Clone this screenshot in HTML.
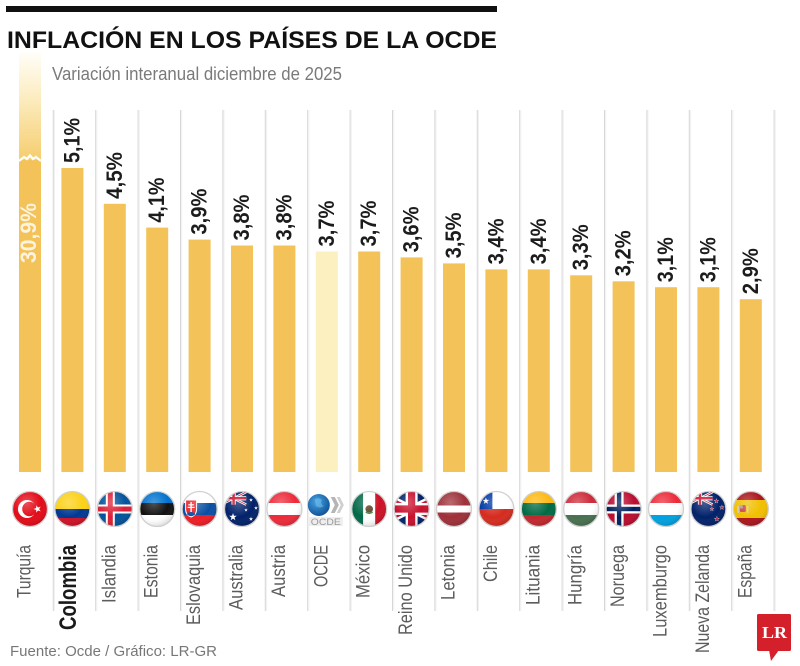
<!DOCTYPE html>
<html><head><meta charset="utf-8"><style>
html,body{margin:0;padding:0;background:#fff;}
svg{display:block;}
text{font-family:"Liberation Sans",sans-serif;}
</style></head><body>
<svg width="800" height="666" viewBox="0 0 800 666" xmlns="http://www.w3.org/2000/svg">
<defs>
<clipPath id="c"><circle r="17.5"/></clipPath>
<radialGradient id="gloss" cx="40%" cy="32%" r="70%">
<stop offset="0" stop-color="#fff" stop-opacity="0.28"/>
<stop offset="0.6" stop-color="#fff" stop-opacity="0"/>
<stop offset="1" stop-color="#000" stop-opacity="0.15"/>
</radialGradient>
<linearGradient id="tg" x1="0" y1="0" x2="0" y2="1">
<stop offset="0" stop-color="#fffef9"/>
<stop offset="0.45" stop-color="#fcebbd"/>
<stop offset="1" stop-color="#f5cd6e"/>
</linearGradient>
<radialGradient id="globe" cx="40%" cy="35%" r="70%">
<stop offset="0" stop-color="#4aa3e0"/>
<stop offset="1" stop-color="#0b4f95"/>
</radialGradient>
<polygon id="star" points="0,-1 0.235,-0.324 0.951,-0.309 0.38,0.124 0.588,0.809 0,0.4 -0.588,0.809 -0.38,0.124 -0.951,-0.309 -0.235,-0.324"/>
<g id="uj">
<rect width="60" height="30" fill="#012169"/>
<path d="M0,0L60,30M60,0L0,30" stroke="#fff" stroke-width="6"/>
<path d="M0,0L60,30M60,0L0,30" stroke="#C8102E" stroke-width="2"/>
<path d="M30,0v30M0,15h60" stroke="#fff" stroke-width="10"/>
<path d="M30,0v30M0,15h60" stroke="#C8102E" stroke-width="6"/>
</g>
</defs>

<!-- top rule + titles -->
<rect x="6" y="6" width="491" height="6" fill="#111"/>
<text x="7" y="48" font-size="24" font-weight="bold" fill="#111" textLength="490" lengthAdjust="spacingAndGlyphs">INFLACIÓN EN LOS PAÍSES DE LA OCDE</text>
<text x="52" y="80" font-size="18" fill="#7a7a7a" textLength="290" lengthAdjust="spacingAndGlyphs">Variación interanual diciembre de 2025</text>

<!-- separators -->
<g stroke-width="1">
<g stroke="#d6d6d6">
<line x1="53.3" y1="110" x2="53.3" y2="611"/><line x1="95.7" y1="110" x2="95.7" y2="611"/><line x1="138.1" y1="110" x2="138.1" y2="611"/><line x1="180.5" y1="110" x2="180.5" y2="611"/><line x1="222.9" y1="110" x2="222.9" y2="611"/><line x1="265.3" y1="110" x2="265.3" y2="611"/><line x1="307.7" y1="110" x2="307.7" y2="611"/><line x1="350.1" y1="110" x2="350.1" y2="611"/><line x1="392.5" y1="110" x2="392.5" y2="611"/><line x1="434.9" y1="110" x2="434.9" y2="611"/><line x1="477.3" y1="110" x2="477.3" y2="611"/><line x1="519.7" y1="110" x2="519.7" y2="611"/><line x1="562.1" y1="110" x2="562.1" y2="611"/><line x1="604.5" y1="110" x2="604.5" y2="611"/><line x1="646.9" y1="110" x2="646.9" y2="611"/><line x1="689.3" y1="110" x2="689.3" y2="611"/><line x1="731.7" y1="110" x2="731.7" y2="611"/><line x1="774.1" y1="110" x2="774.1" y2="611"/>
</g>
<g stroke="#f2f2f2">
<line x1="54.5" y1="110" x2="54.5" y2="611"/><line x1="96.9" y1="110" x2="96.9" y2="611"/><line x1="139.3" y1="110" x2="139.3" y2="611"/><line x1="181.7" y1="110" x2="181.7" y2="611"/><line x1="224.1" y1="110" x2="224.1" y2="611"/><line x1="266.5" y1="110" x2="266.5" y2="611"/><line x1="308.9" y1="110" x2="308.9" y2="611"/><line x1="351.3" y1="110" x2="351.3" y2="611"/><line x1="393.7" y1="110" x2="393.7" y2="611"/><line x1="436.1" y1="110" x2="436.1" y2="611"/><line x1="478.5" y1="110" x2="478.5" y2="611"/><line x1="520.9" y1="110" x2="520.9" y2="611"/><line x1="563.3" y1="110" x2="563.3" y2="611"/><line x1="605.7" y1="110" x2="605.7" y2="611"/><line x1="648.1" y1="110" x2="648.1" y2="611"/><line x1="690.5" y1="110" x2="690.5" y2="611"/><line x1="732.9" y1="110" x2="732.9" y2="611"/><line x1="775.3" y1="110" x2="775.3" y2="611"/>
</g>
</g>

<!-- Turquia bar -->
<rect x="19" y="52" width="22" height="108" fill="url(#tg)"/>
<rect x="19" y="160" width="22" height="312" fill="#f3c35a"/>
<path d="M19,161 L24,157 L27,159 L30,155.5 L33,159 L36,157 L41,161" fill="none" stroke="#fff" stroke-width="2.2"/>
<text transform="translate(36,263) rotate(-90)" font-size="22" font-weight="bold" fill="#fff" fill-opacity="0.8" textLength="60" lengthAdjust="spacingAndGlyphs">30,9%</text>

<!-- bars -->
<g fill="#f3c35a">
<rect x="61.4" y="168" width="22" height="304"/>
<rect x="103.8" y="203.8" width="22" height="268.2"/>
<rect x="146.2" y="227.6" width="22" height="244.4"/>
<rect x="188.6" y="239.6" width="22" height="232.4"/>
<rect x="231" y="245.5" width="22" height="226.5"/>
<rect x="273.4" y="245.5" width="22" height="226.5"/>
<rect x="315.8" y="251.5" width="22" height="220.5" fill="#fcefc0"/>
<rect x="358.2" y="251.5" width="22" height="220.5"/>
<rect x="400.6" y="257.4" width="22" height="214.6"/>
<rect x="443" y="263.4" width="22" height="208.6"/>
<rect x="485.4" y="269.4" width="22" height="202.6"/>
<rect x="527.8" y="269.4" width="22" height="202.6"/>
<rect x="570.2" y="275.3" width="22" height="196.7"/>
<rect x="612.6" y="281.3" width="22" height="190.7"/>
<rect x="655" y="287.2" width="22" height="184.8"/>
<rect x="697.4" y="287.2" width="22" height="184.8"/>
<rect x="739.8" y="299.2" width="22" height="172.8"/>
</g>

<!-- value labels -->
<g font-size="22" font-weight="bold" fill="#1c1c1c">
<text transform="translate(79.4,163) rotate(-90)" textLength="45" lengthAdjust="spacingAndGlyphs">5,1%</text>
<text transform="translate(121.8,199) rotate(-90)" textLength="47" lengthAdjust="spacingAndGlyphs">4,5%</text>
<text transform="translate(164.2,222.6) rotate(-90)" textLength="45" lengthAdjust="spacingAndGlyphs">4,1%</text>
<text transform="translate(206.6,234.6) rotate(-90)" textLength="46" lengthAdjust="spacingAndGlyphs">3,9%</text>
<text transform="translate(249,240.5) rotate(-90)" textLength="46" lengthAdjust="spacingAndGlyphs">3,8%</text>
<text transform="translate(291.4,240.5) rotate(-90)" textLength="46" lengthAdjust="spacingAndGlyphs">3,8%</text>
<text transform="translate(333.8,246.5) rotate(-90)" textLength="46" lengthAdjust="spacingAndGlyphs">3,7%</text>
<text transform="translate(376.2,246.5) rotate(-90)" textLength="46" lengthAdjust="spacingAndGlyphs">3,7%</text>
<text transform="translate(418.6,252.4) rotate(-90)" textLength="46" lengthAdjust="spacingAndGlyphs">3,6%</text>
<text transform="translate(461,258.4) rotate(-90)" textLength="46" lengthAdjust="spacingAndGlyphs">3,5%</text>
<text transform="translate(503.4,264.4) rotate(-90)" textLength="46" lengthAdjust="spacingAndGlyphs">3,4%</text>
<text transform="translate(545.8,264.4) rotate(-90)" textLength="46" lengthAdjust="spacingAndGlyphs">3,4%</text>
<text transform="translate(588.2,270.3) rotate(-90)" textLength="46" lengthAdjust="spacingAndGlyphs">3,3%</text>
<text transform="translate(630.6,276.3) rotate(-90)" textLength="46" lengthAdjust="spacingAndGlyphs">3,2%</text>
<text transform="translate(673,282.2) rotate(-90)" textLength="45" lengthAdjust="spacingAndGlyphs">3,1%</text>
<text transform="translate(715.4,282.2) rotate(-90)" textLength="45" lengthAdjust="spacingAndGlyphs">3,1%</text>
<text transform="translate(757.8,294.2) rotate(-90)" textLength="46" lengthAdjust="spacingAndGlyphs">2,9%</text>
</g>

<!-- flags -->
<g transform="translate(30,509)"><g clip-path="url(#c)">
<rect x="-18" y="-18" width="36" height="36" fill="#e30a17"/>
<circle cx="-3" cy="0" r="9" fill="#fff"/><circle cx="-0.6" cy="0" r="7.2" fill="#e30a17"/>
<use href="#star" transform="translate(7.5,0) rotate(-90) scale(4)" fill="#fff"/>
</g><circle r="17.5" fill="url(#gloss)"/><circle r="17.5" fill="none" stroke="#d0d0d0" stroke-width="1.3"/></g>
<g transform="translate(72.4,509)"><g clip-path="url(#c)">
<rect x="-18" y="-18" width="36" height="18" fill="#fcd116"/>
<rect x="-18" y="0" width="36" height="9" fill="#003893"/>
<rect x="-18" y="9" width="36" height="9" fill="#ce1126"/>
</g><circle r="17.5" fill="url(#gloss)"/><circle r="17.5" fill="none" stroke="#d0d0d0" stroke-width="1.3"/></g>
<g transform="translate(114.8,509)"><g clip-path="url(#c)">
<rect x="-18" y="-18" width="36" height="36" fill="#02529c"/>
<rect x="-9" y="-18" width="9" height="36" fill="#fff"/><rect x="-18" y="-4.5" width="36" height="9" fill="#fff"/>
<rect x="-7" y="-18" width="5" height="36" fill="#dc1e35"/><rect x="-18" y="-2.5" width="36" height="5" fill="#dc1e35"/>
</g><circle r="17.5" fill="url(#gloss)"/><circle r="17.5" fill="none" stroke="#d0d0d0" stroke-width="1.3"/></g>
<g transform="translate(157.2,509)"><g clip-path="url(#c)">
<rect x="-18" y="-18" width="36" height="12" fill="#0072ce"/>
<rect x="-18" y="-6" width="36" height="12" fill="#111"/>
<rect x="-18" y="6" width="36" height="12" fill="#fff"/>
</g><circle r="17.5" fill="url(#gloss)"/><circle r="17.5" fill="none" stroke="#d0d0d0" stroke-width="1.3"/></g>
<g transform="translate(199.6,509)"><g clip-path="url(#c)">
<rect x="-18" y="-18" width="36" height="12" fill="#fff"/>
<rect x="-18" y="-6" width="36" height="12" fill="#0b4ea2"/>
<rect x="-18" y="6" width="36" height="12" fill="#ee1c25"/>
<path d="M-14,-9 h11 v9 q0,6 -5.5,8 q-5.5,-2 -5.5,-8z" fill="#ee1c25" stroke="#fff" stroke-width="1"/>
<rect x="-9.2" y="-7" width="1.4" height="10" fill="#fff"/><rect x="-11.3" y="-4.8" width="5.6" height="1.2" fill="#fff"/><rect x="-12" y="-2.2" width="7" height="1.2" fill="#fff"/>
<ellipse cx="-8.5" cy="5" rx="4" ry="2" fill="#0b4ea2"/>
</g><circle r="17.5" fill="url(#gloss)"/><circle r="17.5" fill="none" stroke="#d0d0d0" stroke-width="1.3"/></g>
<g transform="translate(242,509)"><g clip-path="url(#c)">
<rect x="-18" y="-18" width="36" height="36" fill="#012169"/>
<use href="#uj" transform="translate(-21,-17) scale(0.42)"/>
<use href="#star" transform="translate(-9,8) scale(4)" fill="#fff"/>
<use href="#star" transform="translate(9,-9) scale(2)" fill="#fff"/>
<use href="#star" transform="translate(14,-1) scale(2)" fill="#fff"/>
<use href="#star" transform="translate(9,10) scale(2.2)" fill="#fff"/>
<use href="#star" transform="translate(4,1) scale(1.8)" fill="#fff"/>
</g><circle r="17.5" fill="url(#gloss)"/><circle r="17.5" fill="none" stroke="#d0d0d0" stroke-width="1.3"/></g>
<g transform="translate(284.4,509)"><g clip-path="url(#c)">
<rect x="-18" y="-18" width="36" height="36" fill="#ed2939"/>
<rect x="-18" y="-6" width="36" height="12" fill="#fff"/>
</g><circle r="17.5" fill="url(#gloss)"/><circle r="17.5" fill="none" stroke="#d0d0d0" stroke-width="1.3"/></g>
<g transform="translate(326.8,509)">
<circle cx="-8" cy="-4" r="11" fill="url(#globe)"/>
<path d="M-12,-10 q4,-2 7,1 q-2,4 2,6 q-4,3 -8,0z" fill="#6fc0ee" opacity="0.6"/>
<polygon points="4,-12 8,-12 12,-4 8,4 4,4 8,-4" fill="#b5b5b5"/>
<polygon points="10,-12 13,-12 17,-4 13,4 10,4 14,-4" fill="#cfcfcf"/>
<rect x="-18" y="8" width="34" height="9" fill="#eeeeee"/>
<text x="-16" y="16" font-size="9" fill="#999" textLength="30" lengthAdjust="spacingAndGlyphs">OCDE</text>
</g>
<g transform="translate(369.2,509)"><g clip-path="url(#c)">
<rect x="-18" y="-18" width="12" height="36" fill="#006847"/>
<rect x="-6" y="-18" width="12" height="36" fill="#fff"/>
<rect x="6" y="-18" width="12" height="36" fill="#ce1126"/>
<circle cx="0" cy="0" r="3.8" fill="#5a3e22"/><path d="M-3.5,3 q3.5,3 7,0" stroke="#3a8a3a" stroke-width="1.2" fill="none"/>
</g><circle r="17.5" fill="url(#gloss)"/><circle r="17.5" fill="none" stroke="#d0d0d0" stroke-width="1.3"/></g>
<g transform="translate(411.6,509)"><g clip-path="url(#c)">
<use href="#uj" transform="translate(-36,-18) scale(1.2)"/>
</g><circle r="17.5" fill="url(#gloss)"/><circle r="17.5" fill="none" stroke="#d0d0d0" stroke-width="1.3"/></g>
<g transform="translate(454,509)"><g clip-path="url(#c)">
<rect x="-18" y="-18" width="36" height="36" fill="#9e3039"/>
<rect x="-18" y="-3.5" width="36" height="7" fill="#fff"/>
</g><circle r="17.5" fill="url(#gloss)"/><circle r="17.5" fill="none" stroke="#d0d0d0" stroke-width="1.3"/></g>
<g transform="translate(496.4,509)"><g clip-path="url(#c)">
<rect x="-18" y="-18" width="36" height="18" fill="#fff"/>
<rect x="-18" y="-18" width="14" height="18" fill="#0039a6"/>
<rect x="-18" y="0" width="36" height="18" fill="#d52b1e"/>
<use href="#star" transform="translate(-10.5,-8) scale(3.5)" fill="#fff"/>
</g><circle r="17.5" fill="url(#gloss)"/><circle r="17.5" fill="none" stroke="#d0d0d0" stroke-width="1.3"/></g>
<g transform="translate(538.8,509)"><g clip-path="url(#c)">
<rect x="-18" y="-18" width="36" height="12" fill="#fdb913"/>
<rect x="-18" y="-6" width="36" height="12" fill="#006a44"/>
<rect x="-18" y="6" width="36" height="12" fill="#c1272d"/>
</g><circle r="17.5" fill="url(#gloss)"/><circle r="17.5" fill="none" stroke="#d0d0d0" stroke-width="1.3"/></g>
<g transform="translate(581.2,509)"><g clip-path="url(#c)">
<rect x="-18" y="-18" width="36" height="12" fill="#ce2939"/>
<rect x="-18" y="-6" width="36" height="12" fill="#fff"/>
<rect x="-18" y="6" width="36" height="12" fill="#477050"/>
</g><circle r="17.5" fill="url(#gloss)"/><circle r="17.5" fill="none" stroke="#d0d0d0" stroke-width="1.3"/></g>
<g transform="translate(623.6,509)"><g clip-path="url(#c)">
<rect x="-18" y="-18" width="36" height="36" fill="#ba0c2f"/>
<rect x="-9" y="-18" width="9" height="36" fill="#fff"/><rect x="-18" y="-4.5" width="36" height="9" fill="#fff"/>
<rect x="-6.7" y="-18" width="4.4" height="36" fill="#00205b"/><rect x="-18" y="-2.2" width="36" height="4.4" fill="#00205b"/>
</g><circle r="17.5" fill="url(#gloss)"/><circle r="17.5" fill="none" stroke="#d0d0d0" stroke-width="1.3"/></g>
<g transform="translate(666,509)"><g clip-path="url(#c)">
<rect x="-18" y="-18" width="36" height="12" fill="#ed2939"/>
<rect x="-18" y="-6" width="36" height="12" fill="#fff"/>
<rect x="-18" y="6" width="36" height="12" fill="#00a1de"/>
</g><circle r="17.5" fill="url(#gloss)"/><circle r="17.5" fill="none" stroke="#d0d0d0" stroke-width="1.3"/></g>
<g transform="translate(708.4,509)"><g clip-path="url(#c)">
<rect x="-18" y="-18" width="36" height="36" fill="#012169"/>
<use href="#uj" transform="translate(-21,-17) scale(0.42)"/>
<use href="#star" transform="translate(8,-8) scale(2.8)" fill="#fff"/><use href="#star" transform="translate(8,-8) scale(2)" fill="#c8102e"/>
<use href="#star" transform="translate(13.5,-1.5) scale(2.8)" fill="#fff"/><use href="#star" transform="translate(13.5,-1.5) scale(2)" fill="#c8102e"/>
<use href="#star" transform="translate(3.5,0) scale(2.5)" fill="#fff"/><use href="#star" transform="translate(3.5,0) scale(1.7)" fill="#c8102e"/>
<use href="#star" transform="translate(8.5,10) scale(3)" fill="#fff"/><use href="#star" transform="translate(8.5,10) scale(2.2)" fill="#c8102e"/>
</g><circle r="17.5" fill="url(#gloss)"/><circle r="17.5" fill="none" stroke="#d0d0d0" stroke-width="1.3"/></g>
<g transform="translate(750.8,509)"><g clip-path="url(#c)">
<rect x="-18" y="-18" width="36" height="36" fill="#aa151b"/>
<rect x="-18" y="-9" width="36" height="18" fill="#f1bf00"/>
<rect x="-11" y="-4" width="6" height="7" rx="1.5" fill="#c8414b"/><rect x="-11" y="-4" width="3" height="3.5" fill="#ad9f8a"/>
<rect x="-13.5" y="-3" width="1.5" height="7" fill="#ccc"/><rect x="-4" y="-3" width="1.5" height="7" fill="#ccc"/>
</g><circle r="17.5" fill="url(#gloss)"/><circle r="17.5" fill="none" stroke="#d0d0d0" stroke-width="1.3"/></g>

<!-- country labels -->
<g font-size="19" fill="#5c5c5c">
<text transform="translate(30.5,598) rotate(-90)" textLength="53" lengthAdjust="spacingAndGlyphs">Turquía</text>
<text transform="translate(115.3,603) rotate(-90)" textLength="58" lengthAdjust="spacingAndGlyphs">Islandia</text>
<text transform="translate(157.7,598) rotate(-90)" textLength="53" lengthAdjust="spacingAndGlyphs">Estonia</text>
<text transform="translate(200.1,625) rotate(-90)" textLength="80" lengthAdjust="spacingAndGlyphs">Eslovaquia</text>
<text transform="translate(242.5,610) rotate(-90)" textLength="65" lengthAdjust="spacingAndGlyphs">Australia</text>
<text transform="translate(284.9,597) rotate(-90)" textLength="52" lengthAdjust="spacingAndGlyphs">Austria</text>
<text transform="translate(327.3,587) rotate(-90)" textLength="42" lengthAdjust="spacingAndGlyphs">OCDE</text>
<text transform="translate(369.7,598) rotate(-90)" textLength="53" lengthAdjust="spacingAndGlyphs">México</text>
<text transform="translate(412.1,635) rotate(-90)" textLength="90" lengthAdjust="spacingAndGlyphs">Reino Unido</text>
<text transform="translate(454.5,600) rotate(-90)" textLength="55" lengthAdjust="spacingAndGlyphs">Letonia</text>
<text transform="translate(496.9,582) rotate(-90)" textLength="37" lengthAdjust="spacingAndGlyphs">Chile</text>
<text transform="translate(539.3,605) rotate(-90)" textLength="60" lengthAdjust="spacingAndGlyphs">Lituania</text>
<text transform="translate(581.7,605) rotate(-90)" textLength="60" lengthAdjust="spacingAndGlyphs">Hungría</text>
<text transform="translate(624.1,607) rotate(-90)" textLength="62" lengthAdjust="spacingAndGlyphs">Noruega</text>
<text transform="translate(666.5,637) rotate(-90)" textLength="92" lengthAdjust="spacingAndGlyphs">Luxemburgo</text>
<text transform="translate(708.9,653) rotate(-90)" textLength="108" lengthAdjust="spacingAndGlyphs">Nueva Zelanda</text>
<text transform="translate(751.3,598) rotate(-90)" textLength="53" lengthAdjust="spacingAndGlyphs">España</text>
</g>
<text transform="translate(76,630) rotate(-90)" font-size="24" font-weight="bold" fill="#1a1a1a" textLength="85" lengthAdjust="spacingAndGlyphs">Colombia</text>

<!-- footer -->
<text x="10" y="656" font-size="15" fill="#777" textLength="207" lengthAdjust="spacingAndGlyphs">Fuente: Ocde / Gráfico: LR-GR</text>

<!-- LR logo -->
<rect x="757" y="614" width="34" height="37" rx="1.5" fill="#d3202a"/>
<polygon points="769,650 779,650 771,661" fill="#d3202a"/>
<text x="762" y="638" style="font-family:'Liberation Serif',serif" font-size="17" font-weight="bold" fill="#fff" textLength="25" lengthAdjust="spacingAndGlyphs">LR</text>
</svg>
</body></html>
